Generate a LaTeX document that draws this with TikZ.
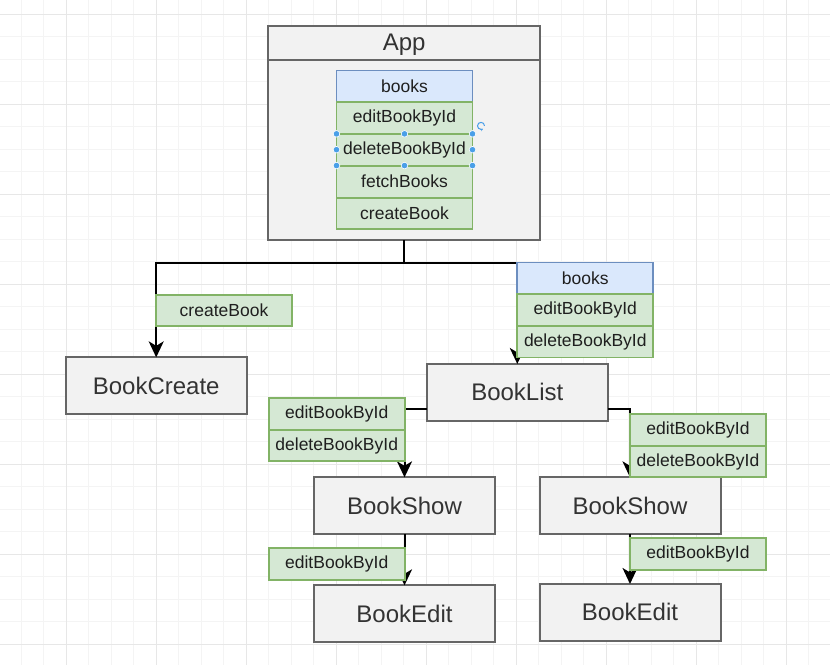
\documentclass[tikz,border=0pt]{standalone}
\usepackage{fontspec}
\setmainfont{Liberation Sans}
\usetikzlibrary{arrows.meta}
\definecolor{gridminor}{HTML}{F4F4F4}
\definecolor{gridmajor}{HTML}{E7E7E7}
\definecolor{boxfill}{HTML}{F2F2F2}
\definecolor{boxdraw}{HTML}{666666}
\definecolor{boxtext}{HTML}{333333}
\definecolor{greenfill}{HTML}{D5E8D4}
\definecolor{greendraw}{HTML}{82B366}
\definecolor{bluefill}{HTML}{DAE8FC}
\definecolor{bluedraw}{HTML}{6C8EBF}
\definecolor{handle}{HTML}{4A9FE8}
\begin{document}
\begin{tikzpicture}[x=1pt,y=-1pt,
  comp/.style={draw=boxdraw, fill=boxfill, line width=2pt, text=boxtext, minimum width=181pt, minimum height=56.7pt, font=\fontsize{24}{28}\selectfont, inner sep=0pt, outer sep=0pt},
  fn/.style={draw=greendraw, fill=greenfill, line width=1.8pt, text=black!88, minimum width=136pt, minimum height=31.7pt, font=\fontsize{17.5}{20}\selectfont, inner sep=0pt, outer sep=0pt},
  st/.style={fn, draw=bluedraw, fill=bluefill},
  conn/.style={draw=black, line width=2pt, -{Stealth[length=16pt,width=15pt,inset=4.5pt]}},
  plain/.style={draw=black, line width=2pt},
  hdl/.style={fill=handle, draw=white, line width=0.6pt}]

\fill[white] (0,0) rectangle (830,665);
\useasboundingbox (0,0) rectangle (830,665);

% grid
\foreach \i in {0,...,37} {\draw[gridminor, line width=1pt] ({-1.5+22.5*\i},0) -- ({-1.5+22.5*\i},665);}
\foreach \i in {0,...,30} {\draw[gridminor, line width=1pt] (0,{-8.2+22.5*\i}) -- (830,{-8.2+22.5*\i});}
\foreach \i in {0,...,8} {\draw[gridmajor, line width=1pt] ({66+90*\i},0) -- ({66+90*\i},665);}
\foreach \i in {0,...,7} {\draw[gridmajor, line width=1pt] (0,{14.3+90*\i}) -- (830,{14.3+90*\i});}

% App container
\node[comp, minimum width=271.7pt, minimum height=214.3pt] (app) at (404.2,132.9) {};
\draw[draw=boxdraw, line width=2pt] (app.west |- 0,60) -- (app.east |- 0,60);
\node[font=\fontsize{24}{28}\selectfont, text=boxtext] (apptitle) at (404.2,44.5) {App};
\node[st] (r1) at (404.5,86.3) {books};
\node[fn] (r2) at (404.5,117.8) {editBookById};
\node[fn] (r3) at (404.5,149.7) {deleteBookById};
\node[fn] (r4) at (404.5,181.7) {fetchBooks};
\node[fn] (r5) at (404.5,213.5) {createBook};

% selection handles
\foreach \a in {north west,north,north east,west,east,south west,south,south east}
  {\fill[hdl] (r3.\a) circle (3.3pt);}
\coordinate (rot) at ([xshift=8.5pt,yshift=8pt]r3.north east);
\draw[handle, line width=1pt, -{Stealth[length=2.5pt,width=3pt]}] ([xshift=3.5pt]rot) arc (0:300:3.5pt);

% components
\node[comp] (bookcreate) at (156.2,385.7) {BookCreate};
\node[comp] (booklist) at (517.3,392.3) {BookList};
\node[comp] (bookshowA) at (404.5,505.7) {BookShow};
\node[comp] (bookeditA) at (404.5,613.7) {BookEdit};
\node[comp] (bookshowB) at (630,505.7) {BookShow};
\node[comp] (bookeditB) at (630,612.3) {BookEdit};

% connectors
\coordinate (bus) at (404.2,262.7);
\draw[plain] (app.south) -- (bus);
\draw[conn] (bus) -| (bookcreate.north);
\draw[conn] (bus) -| (booklist.north);
\draw[conn] ([yshift=-17pt]booklist.west) -| (bookshowA.north);
\draw[conn] ([yshift=-17pt]booklist.east) -| (bookshowB.north);
\draw[conn] (bookshowA.south) -- (bookeditA.north);
\draw[conn] (bookshowB.south) -- (bookeditB.north);

% passed props
\node[fn] (lblCreate) at (224,310.5) {createBook};
\node[st] (s1) at (585.3,278.3) {books};
\node[fn] (s2) at (585.3,310) {editBookById};
\node[fn] (s3) at (585.3,341.7) {deleteBookById};
\node[fn] (la1) at (336.7,413.8) {editBookById};
\node[fn] (la2) at (336.7,445.5) {deleteBookById};
\node[fn] (lb1) at (698,429.9) {editBookById};
\node[fn] (lb2) at (698,461.5) {deleteBookById};
\node[fn] (la3) at (336.7,564.2) {editBookById};
\node[fn] (lb3) at (698,554.2) {editBookById};
\end{tikzpicture}
\end{document}
